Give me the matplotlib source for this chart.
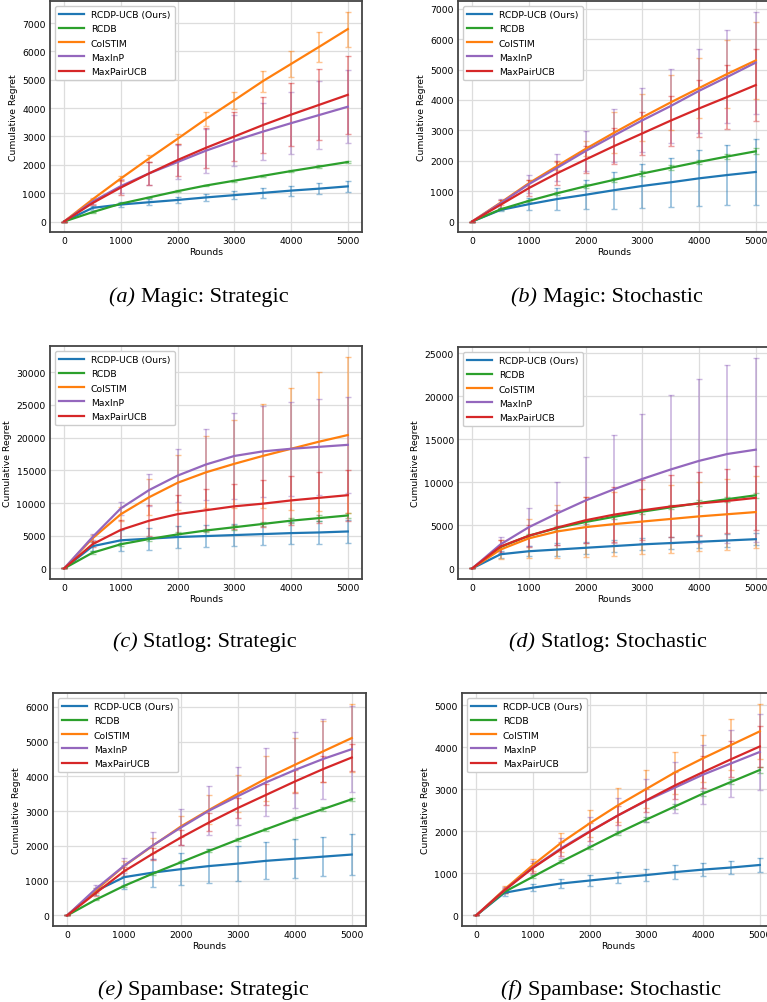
import matplotlib
matplotlib.use("Agg")
import matplotlib.pyplot as plt

# Rounds at which the mean and the error bars are recorded
rounds = [0, 500, 1000, 1500, 2000, 2500, 3000, 3500, 4000, 4500, 5000]

methods = ["RCDP-UCB (Ours)", "RCDB", "ColSTIM", "MaxInP", "MaxPairUCB"]
colors = ["#1f77b4", "#2ca02c", "#ff7f0e", "#9467bd", "#d62728"]

captions = [("(a)", "Magic: Strategic"), ("(b)", "Magic: Stochastic"),
            ("(c)", "Statlog: Strategic"), ("(d)", "Statlog: Stochastic"),
            ("(e)", "Spambase: Strategic"), ("(f)", "Spambase: Stochastic")]

# (a) Magic: Strategic
a_mean = [
    [0, 480, 600, 680, 760, 850, 930, 1010, 1090, 1160, 1240],
    [0, 330, 630, 850, 1070, 1270, 1440, 1610, 1780, 1940, 2100],
    [0, 780, 1520, 2230, 2920, 3620, 4280, 4950, 5560, 6170, 6790],
    [0, 700, 1250, 1700, 2100, 2500, 2850, 3170, 3470, 3760, 4050],
    [0, 650, 1200, 1700, 2170, 2600, 3000, 3400, 3770, 4120, 4470],
]
a_err = [
    [0, 60, 80, 100, 110, 120, 140, 170, 180, 190, 200],
    [0, 20, 30, 30, 30, 30, 40, 40, 40, 40, 50],
    [0, 60, 80, 120, 170, 250, 300, 370, 450, 530, 620],
    [0, 100, 250, 400, 600, 780, 900, 1000, 1100, 1190, 1280],
    [0, 80, 250, 400, 550, 700, 850, 1000, 1110, 1250, 1380],
]

# (b) Magic: Stochastic
b_mean = [
    [0, 380, 570, 740, 880, 1030, 1170, 1290, 1420, 1530, 1630],
    [0, 400, 680, 930, 1160, 1370, 1580, 1770, 1960, 2140, 2310],
    [0, 620, 1260, 1830, 2390, 2920, 3430, 3920, 4390, 4860, 5300],
    [0, 600, 1230, 1770, 2320, 2830, 3330, 3800, 4300, 4760, 5230],
    [0, 550, 1100, 1590, 2040, 2480, 2900, 3320, 3720, 4100, 4490],
]
b_err = [
    [0, 50, 200, 350, 480, 610, 720, 810, 920, 1000, 1080],
    [0, 30, 40, 50, 60, 60, 70, 80, 80, 90, 100],
    [0, 80, 100, 130, 250, 680, 780, 900, 1000, 1120, 1260],
    [0, 150, 300, 450, 650, 870, 1050, 1230, 1380, 1530, 1680],
    [0, 150, 250, 400, 450, 590, 700, 820, 950, 1060, 1180],
]

# (c) Statlog: Strategic
c_mean = [
    [0, 3400, 4300, 4550, 4800, 4950, 5100, 5250, 5400, 5500, 5650],
    [0, 2400, 3700, 4500, 5200, 5800, 6300, 6800, 7300, 7700, 8100],
    [0, 4600, 8300, 10900, 13100, 14700, 16000, 17200, 18300, 19400, 20400],
    [0, 4800, 9200, 12000, 14200, 15900, 17200, 17900, 18300, 18600, 18900],
    [0, 3700, 5900, 7300, 8300, 8900, 9500, 9900, 10400, 10800, 11200],
]
c_err = [
    [0, 700, 1600, 1700, 1700, 1700, 1700, 1700, 1700, 1700, 1700],
    [0, 200, 250, 300, 300, 300, 350, 350, 400, 400, 400],
    [0, 500, 1100, 2700, 4200, 5500, 6700, 7900, 9300, 10600, 12000],
    [0, 500, 1000, 2500, 4000, 5500, 6600, 7000, 7200, 7300, 7300],
    [0, 500, 1500, 2400, 3000, 3200, 3400, 3600, 3700, 3900, 3900],
]

# (d) Statlog: Stochastic
d_mean = [
    [0, 1650, 2000, 2200, 2400, 2600, 2800, 2950, 3100, 3250, 3400],
    [0, 2500, 3800, 4700, 5400, 6000, 6600, 7100, 7600, 8050, 8500],
    [0, 2200, 3500, 4300, 4800, 5150, 5450, 5750, 6050, 6300, 6550],
    [0, 2800, 4800, 6400, 7900, 9200, 10400, 11500, 12500, 13300, 13800],
    [0, 2550, 3800, 4750, 5600, 6250, 6750, 7200, 7550, 7850, 8200],
]
d_err = [
    [0, 400, 600, 700, 700, 700, 700, 700, 700, 700, 700],
    [0, 150, 200, 200, 200, 250, 250, 250, 300, 300, 300],
    [0, 1100, 2300, 3100, 3500, 3700, 3800, 3900, 4000, 4100, 4200],
    [0, 900, 2200, 3700, 5000, 6300, 7500, 8600, 9500, 10300, 10700],
    [0, 700, 1300, 2000, 2700, 3200, 3500, 3600, 3700, 3700, 3700],
]

# (e) Spambase: Strategic
e_mean = [
    [0, 700, 1100, 1230, 1330, 1420, 1490, 1570, 1630, 1690, 1750],
    [0, 450, 850, 1200, 1530, 1860, 2180, 2480, 2780, 3060, 3340],
    [0, 720, 1420, 2000, 2560, 3040, 3500, 3940, 4330, 4720, 5100],
    [0, 760, 1430, 2010, 2530, 3020, 3430, 3830, 4180, 4500, 4780],
    [0, 640, 1270, 1770, 2240, 2680, 3090, 3470, 3850, 4210, 4540],
]
e_err = [
    [0, 100, 350, 400, 450, 480, 500, 530, 560, 570, 580],
    [0, 20, 30, 30, 30, 40, 40, 40, 40, 50, 50],
    [0, 80, 150, 220, 300, 420, 540, 650, 780, 880, 990],
    [0, 100, 220, 380, 520, 700, 830, 970, 1080, 1160, 1230],
    [0, 80, 130, 170, 220, 250, 280, 300, 320, 370, 400],
]

# (f) Spambase: Stochastic
f_mean = [
    [0, 540, 660, 760, 830, 900, 960, 1030, 1090, 1140, 1200],
    [0, 560, 920, 1280, 1620, 1960, 2280, 2590, 2900, 3180, 3460],
    [0, 620, 1200, 1730, 2190, 2620, 3010, 3400, 3740, 4060, 4380],
    [0, 600, 1140, 1600, 2000, 2380, 2730, 3040, 3350, 3620, 3890],
    [0, 600, 1130, 1580, 1990, 2380, 2740, 3090, 3410, 3720, 4020],
]
f_err = [
    [0, 80, 90, 100, 130, 140, 150, 160, 160, 160, 170],
    [0, 30, 30, 40, 40, 40, 50, 50, 50, 60, 60],
    [0, 70, 150, 230, 320, 400, 450, 500, 560, 610, 660],
    [0, 70, 150, 240, 330, 420, 510, 610, 700, 800, 900],
    [0, 60, 120, 160, 210, 230, 270, 320, 380, 430, 480],
]

panels = [(a_mean, a_err), (b_mean, b_err), (c_mean, c_err),
          (d_mean, d_err), (e_mean, e_err), (f_mean, f_err)]

W, H = 767, 1003
# axes boxes in pixels: left, right, top, bottom
boxes = [(50, 362, 2, 233), (458, 770, 2, 233),
         (50, 362, 347, 580), (458, 770, 348, 580),
         (53, 366, 694, 927), (462, 774, 694, 927)]
# caption centre x and baseline y in pixels
caption_pos = [(199, 302), (607, 302), (205, 647), (608, 647), (203, 995), (611, 995)]

fig = plt.figure(figsize=(W / 100, H / 100), dpi=100)
fs = 6.7

cap_texts = []
for i, (means, errs) in enumerate(panels):
    l, r, t, b = boxes[i]
    ax = fig.add_axes([l / W, 1 - b / H, (r - l) / W, (b - t) / H])
    for k in range(len(methods)):
        ax.errorbar(rounds, means[k], yerr=errs[k], fmt='none', ecolor=colors[k],
                    alpha=0.45, capsize=2.3, elinewidth=1.3, capthick=1.0)
    for k in range(len(methods)):
        ax.plot(rounds, means[k], color=colors[k], lw=1.6, label=methods[k])
    ax.set_xticks([0, 1000, 2000, 3000, 4000, 5000])
    ax.grid(True, color='#dddddd', lw=0.9)
    ax.set_axisbelow(True)
    ax.tick_params(labelsize=fs, length=0, pad=3)
    ax.set_xlabel("Rounds", fontsize=fs, labelpad=1)
    ax.set_ylabel("Cumulative Regret", fontsize=fs, labelpad=3)
    for s in ax.spines.values():
        s.set_color('#444444')
        s.set_linewidth(1.3)
    ax.legend(loc='upper left', fontsize=fs, handlelength=2.6, borderpad=0.5,
              labelspacing=0.55, framealpha=1.0)

    tag, name = captions[i]
    t1 = fig.text(0, 0, tag + " ", fontsize=16, ha='left', va='baseline',
                  family='Liberation Serif', style='italic')
    t2 = fig.text(0, 0, name, fontsize=16, ha='left', va='baseline',
                  family='Liberation Serif')
    cap_texts.append((t1, t2, caption_pos[i]))

# centre each caption (italic tag + plain name) on its panel
renderer = fig.canvas.get_renderer()
for t1, t2, (cx, cy) in cap_texts:
    w1 = t1.get_window_extent(renderer).width
    w2 = t2.get_window_extent(renderer).width
    x0 = cx - (w1 + w2) / 2
    t1.set_position((x0 / W, 1 - cy / H))
    t2.set_position(((x0 + w1) / W, 1 - cy / H))

fig.savefig("out.png", dpi=100)
